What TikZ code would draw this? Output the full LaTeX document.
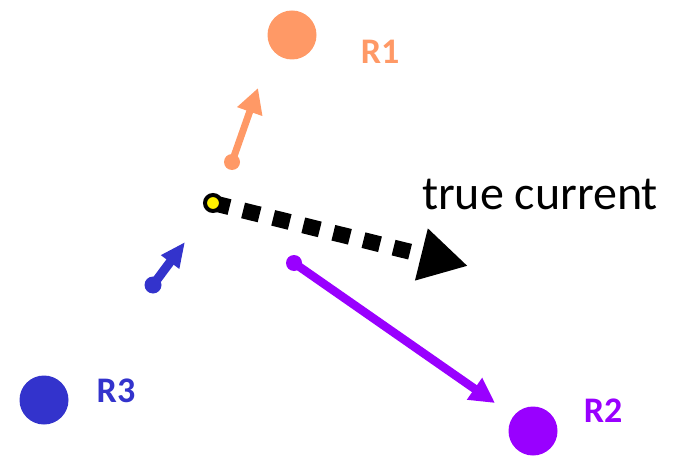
\documentclass[tikz,border=0pt]{standalone}
\usepackage{fontspec}
\setmainfont{Carlito}
\usetikzlibrary{arrows.meta}
\definecolor{corange}{HTML}{FF9966}
\definecolor{cblue}{HTML}{3333CC}
\definecolor{cpurple}{HTML}{9900FF}
\tikzset{
  rcirc/.style={circle,inner sep=0pt,minimum size=49pt},
  rlabel/.style={font=\fontsize{36}{36}\selectfont\bfseries,inner sep=0pt},
  tipdot/.style={circle,inner sep=0pt,minimum size=#1},
  vec/.style={line width=#1},
}
\begin{document}
\begin{tikzpicture}[x=1pt,y=-1pt]
\useasboundingbox (0,0) rectangle (676,457);
% receivers
\node[rcirc,fill=corange] (R1) at (292,35) {};
\node[rlabel,text=corange] (L1) at (380,52) {R1};
\node[rcirc,fill=cpurple] (R2) at (533,431) {};
\node[rlabel,text=cpurple] (L2) at (603,411) {R2};
\node[rcirc,fill=cblue] (R3) at (44,400) {};
\node[rlabel,text=cblue] (L3) at (116,391) {R3};
% orange vector
\node[tipdot=16pt,fill=corange] (o0) at (232,162) {};
\coordinate (o1) at (258,88);
\draw[vec=7pt,draw=corange,-{Triangle[length=25pt,width=25pt]},fill=corange] (o0.center) -- (o1);
% blue vector
\node[tipdot=17pt,fill=cblue] (b0) at (153,285) {};
\coordinate (b1) at (185,242);
\draw[vec=9pt,draw=cblue,-{Triangle[length=25pt,width=21pt]},fill=cblue] (b0.center) -- (b1);
% purple vector
\node[tipdot=16pt,fill=cpurple] (p0) at (294,263) {};
\coordinate (p1) at (495,403);
\draw[vec=8.5pt,draw=cpurple,-{Triangle[length=25pt,width=25pt]},fill=cpurple] (p0.center) -- (p1);
% true current
\coordinate (c1) at (468,266);
\coordinate (cs) at (213,203);
\draw[line width=16pt,dash pattern=on 17pt off 14pt,-{Triangle[length=48pt,width=50pt]}] (cs) -- (c1);
\node[circle,inner sep=0pt,minimum size=16pt,fill=yellow,draw=black,line width=4pt] (c0) at (cs) {};
\node[font=\fontsize{48}{48}\selectfont,inner sep=0pt,anchor=base] (tc) at (540,209) {true current};
\end{tikzpicture}
\end{document}
